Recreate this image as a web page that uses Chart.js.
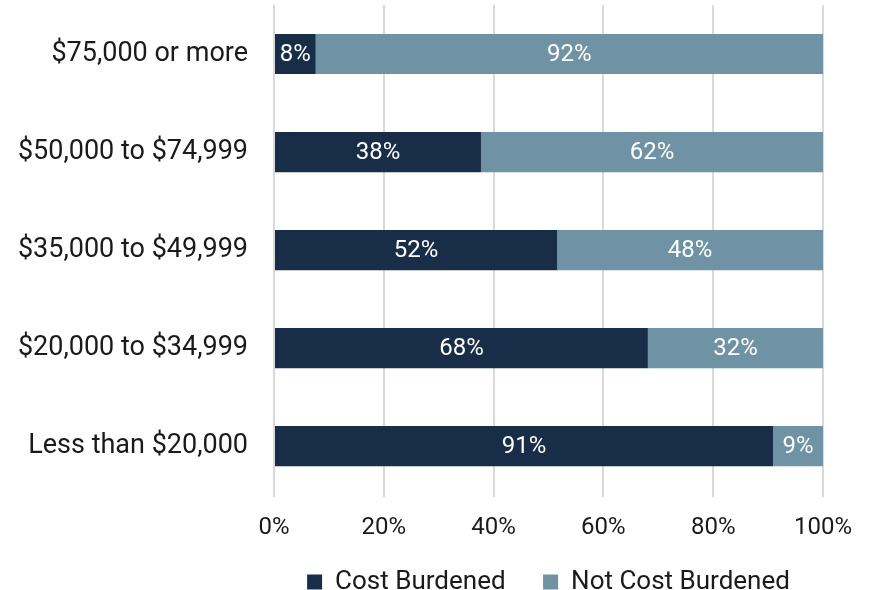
<!DOCTYPE html>
<html>
<head>
<meta charset="utf-8">
<script src="https://cdn.jsdelivr.net/npm/chart.js"></script>
<style>
  html, body { margin: 0; padding: 0; background: #fff; }
  #wrap { width: 870px; height: 590px; }
</style>
</head>
<body>
<div id="wrap"><canvas id="burdenChart"></canvas></div>
<script>
// income brackets, top to bottom
const categories = ['$75,000 or more', '$50,000 to $74,999', '$35,000 to $49,999', '$20,000 to $34,999', 'Less than $20,000'];
const costBurdened = [7.6, 37.7, 51.6, 68.1, 90.9];
const notCostBurdened = [92.4, 62.3, 48.4, 31.9, 9.1];
const xTicks = [0, 20, 40, 60, 80, 100];

const FONT = 'Roboto, "Liberation Sans", sans-serif';
const INK = '#1a1a1a';

// percent labels in the middle of each bar segment
const barLabels = {
  id: 'barLabels',
  afterDatasetsDraw(chart) {
    const ctx = chart.ctx;
    ctx.save();
    ctx.fillStyle = '#ffffff';
    ctx.font = '24px ' + FONT;
    ctx.textAlign = 'center';
    ctx.textBaseline = 'middle';
    chart.data.datasets.forEach((ds, i) => {
      chart.getDatasetMeta(i).data.forEach((bar, j) => {
        const x = (bar.x + bar.base) / 2;
        ctx.fillText(Math.round(ds.data[j]) + '%', x, bar.y + 1);
      });
    });
    ctx.restore();
  }
};

const defaultLegendLabels = Chart.defaults.plugins.legend.labels.generateLabels;

new Chart(document.getElementById('burdenChart'), {
  type: 'bar',
  data: {
    labels: categories,
    datasets: [
      { label: 'Cost Burdened', data: costBurdened, backgroundColor: '#182e48' },
      { label: 'Not Cost Burdened', data: notCostBurdened, backgroundColor: '#6f93a4' }
    ]
  },
  options: {
    indexAxis: 'y',
    responsive: true,
    maintainAspectRatio: false,
    animation: false,
    datasets: { bar: { categoryPercentage: 1, barPercentage: 0.41 } },
    layout: { padding: { top: 5, right: 47, left: 0, bottom: -15 } },
    scales: {
      x: {
        stacked: true,
        min: 0,
        max: 100,
        afterBuildTicks: (axis) => { axis.ticks = xTicks.map(v => ({ value: v })); },
        grid: { color: '#d9d9d9', lineWidth: 2, tickLength: 2 },
        border: { display: false },
        ticks: {
          color: INK,
          font: { family: FONT, size: 24 },
          padding: 16,
          callback: (v) => v + '%'
        }
      },
      y: {
        stacked: true,
        grid: { display: false },
        border: { display: false },
        afterFit: (axis) => {
          axis.width = 274;
          axis.paddingTop = 0;
          axis.paddingBottom = 0;
        },
        ticks: {
          color: INK,
          font: { family: FONT, size: 27 },
          padding: 18
        }
      }
    },
    plugins: {
      legend: {
        position: 'bottom',
        fullSize: false,
        labels: {
          color: INK,
          font: { family: FONT, size: 26 },
          boxWidth: 15,
          boxHeight: 15,
          padding: 11,
          // a little extra room between the two legend entries
          generateLabels: (chart) => defaultLegendLabels(chart).map((item, i, all) => {
            if (i < all.length - 1) item.text += '\u2002\u2002';
            return item;
          })
        }
      },
      tooltip: { enabled: false }
    }
  },
  plugins: [barLabels]
});
</script>
</body>
</html>
